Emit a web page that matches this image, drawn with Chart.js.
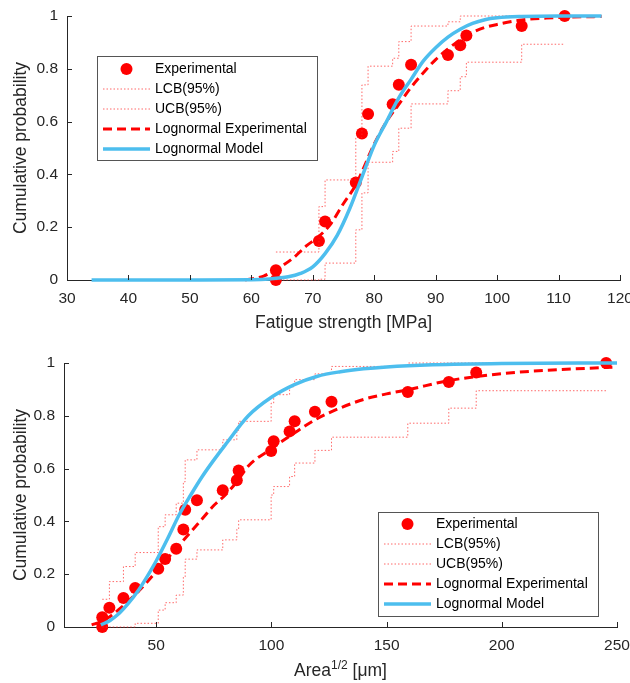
<!DOCTYPE html>
<html>
<head>
<meta charset="utf-8">
<script src="https://cdn.jsdelivr.net/npm/chart.js@4"></script>
<style>
  body { margin: 0; background: #fff; }
  #wrap { position: relative; width: 630px; height: 683px; }
  canvas { position: absolute; left: 0; }
</style>
</head>
<body>
<div id="wrap">
  <canvas id="topChart" width="630" height="340" style="top:0"></canvas>
  <canvas id="bottomChart" width="630" height="343" style="top:340px"></canvas>
</div>
<script>
// ---- top panel: fatigue strength ----
const strengthTicks = [30, 40, 50, 60, 70, 80, 90, 100, 110, 120];
const strengthMPa  = [64, 64, 71, 72, 77, 78, 79, 83, 84, 86, 92, 94, 95, 104, 111];
const strengthProb = [0, 0.037, 0.148, 0.222, 0.369, 0.555, 0.629, 0.666, 0.740, 0.815, 0.852, 0.889, 0.926, 0.962, 1.0];
const strengthLcbX = [64, 71, 72, 77, 78, 79, 83, 84, 86, 92, 94, 95, 104, 111];
const strengthLcbY = [0.0, 0.003, 0.064, 0.19, 0.33, 0.446, 0.487, 0.575, 0.667, 0.717, 0.77, 0.825, 0.893, 0.893];
const strengthUcbX = [64, 71, 72, 77, 78, 79, 83, 84, 86, 92, 94, 111];
const strengthUcbY = [0.106, 0.278, 0.379, 0.54, 0.739, 0.81, 0.84, 0.903, 0.962, 0.978, 1.0, 1.0];
const strengthFitX = [59, 62, 64, 66.8, 69, 71, 73, 75, 77, 80, 82, 84, 86, 88, 90, 92, 94, 96, 98, 100, 104, 108, 112, 117];
const strengthFitY = [0.0, 0.015, 0.039, 0.083, 0.13, 0.165, 0.215, 0.29, 0.36, 0.515, 0.6, 0.665, 0.73, 0.785, 0.835, 0.875, 0.91, 0.938, 0.957, 0.968, 0.985, 0.992, 0.996, 0.998];
const strengthModelX = [34, 50, 60, 63, 66, 68, 70, 72, 74, 76, 78, 80, 82, 84, 86, 88, 90, 92, 94, 96, 98, 100, 104, 110, 117];
const strengthModelY = [0, 0, 0.001, 0.004, 0.012, 0.025, 0.05, 0.1, 0.17, 0.27, 0.39, 0.51, 0.6, 0.69, 0.76, 0.83, 0.88, 0.92, 0.95, 0.972, 0.986, 0.993, 0.998, 1.0, 1.0];

// ---- bottom panel: defect size sqrt(area) ----
const areaTicks = [50, 100, 150, 200, 250];
const areaUm   = [26.6, 26.6, 29.7, 35.8, 40.9, 50.9, 53.9, 58.7, 61.8, 62.6, 67.7, 78.9, 85.0, 85.8, 99.9, 101.0, 107.9, 110.1, 118.9, 126.1, 159.2, 177.0, 188.9, 245.3];
const areaProb = [0, 0.037, 0.073, 0.110, 0.148, 0.221, 0.258, 0.296, 0.369, 0.444, 0.480, 0.518, 0.556, 0.593, 0.667, 0.704, 0.741, 0.779, 0.815, 0.853, 0.890, 0.928, 0.964, 1.0];
const areaLcbX = [26.6, 40.9, 50.9, 53.9, 58.7, 61.8, 62.6, 67.7, 78.9, 85.0, 85.8, 99.9, 101.0, 107.9, 110.1, 118.9, 126.1, 159.2, 177.0, 188.9, 245.3];
const areaLcbY = [0.0, 0.014, 0.064, 0.092, 0.121, 0.19, 0.257, 0.292, 0.33, 0.37, 0.406, 0.5, 0.532, 0.57, 0.621, 0.669, 0.719, 0.772, 0.829, 0.895, 0.895];
const areaUcbX = [26.6, 29.7, 35.8, 40.9, 50.9, 53.9, 58.7, 61.8, 62.6, 67.7, 78.9, 85.0, 85.8, 99.9, 101.0, 107.9, 110.1, 118.9, 126.1, 159.2, 245.3];
const areaUcbY = [0.105, 0.172, 0.229, 0.282, 0.38, 0.425, 0.469, 0.55, 0.633, 0.671, 0.709, 0.745, 0.779, 0.848, 0.88, 0.91, 0.937, 0.959, 0.987, 1.0, 1.0];
const areaFitX = [22, 26, 30, 35, 40, 45, 50, 55, 60, 65, 70, 75, 80, 85, 90, 100, 110, 120, 130, 140, 150, 160, 175, 190, 210, 230, 248];
const areaFitY = [0.008, 0.02, 0.04, 0.075, 0.115, 0.16, 0.21, 0.26, 0.31, 0.36, 0.41, 0.46, 0.5, 0.55, 0.61, 0.675, 0.735, 0.79, 0.83, 0.862, 0.883, 0.9, 0.93, 0.95, 0.967, 0.977, 0.984];
const areaModelX = [26, 30, 34, 38, 42, 46, 50, 55, 60, 65, 70, 75, 80, 90, 100, 110, 120, 130, 140, 150, 170, 200, 250];
const areaModelY = [0.008, 0.025, 0.052, 0.09, 0.135, 0.19, 0.25, 0.335, 0.425, 0.5, 0.57, 0.632, 0.69, 0.8, 0.87, 0.918, 0.95, 0.967, 0.978, 0.985, 0.993, 0.998, 1.0];

const probTicks = [0, 0.2, 0.4, 0.6, 0.8, 1];

const FONT = '"Liberation Sans", Arial, sans-serif';
const TEXT = '#262626';
const AXIS = '#262626';
const RED = '#ff0000';
const BLUE = 'rgb(77, 190, 238)';
const PINK = 'rgba(255, 40, 40, 0.7)';

const pts = (xs, ys) => xs.map((x, i) => ({x: x, y: ys[i]}));

// MATLAB style ticks pointing into the axes
const inwardTicks = {
  id: 'inwardTicks',
  afterDraw(chart) {
    const {ctx, chartArea: a, scales: {x, y}} = chart;
    ctx.save();
    ctx.strokeStyle = AXIS;
    ctx.lineWidth = 1;
    ctx.beginPath();
    x.ticks.forEach(t => {
      const px = Math.round(x.getPixelForValue(t.value)) + 0.5;
      ctx.moveTo(px, a.bottom);
      ctx.lineTo(px, a.bottom - 5);
    });
    y.ticks.forEach(t => {
      const py = Math.round(y.getPixelForValue(t.value)) + 0.5;
      ctx.moveTo(a.left, py);
      ctx.lineTo(a.left + 5, py);
    });
    ctx.stroke();
    ctx.restore();
  }
};

// boxed legend inside the axes, like MATLAB
const boxLegend = {
  id: 'boxLegend',
  afterDraw(chart, args, opts) {
    const {ctx} = chart;
    const L = opts.left, T = opts.top;
    ctx.save();
    ctx.fillStyle = '#fff';
    ctx.fillRect(L, T, opts.width, opts.height);
    ctx.strokeStyle = '#555';
    ctx.lineWidth = 1;
    ctx.strokeRect(L + 0.5, T + 0.5, opts.width, opts.height);
    ctx.font = '14px ' + FONT;
    ctx.textBaseline = 'middle';
    chart.data.datasets.forEach((ds, i) => {
      const cy = T + opts.firstRow + i * opts.rowGap;
      const x1 = L + 6, x2 = L + 53;
      if (ds.showLine) {
        ctx.beginPath();
        ctx.setLineDash(ds.borderDash || []);
        ctx.strokeStyle = ds.borderColor;
        ctx.lineWidth = ds.borderWidth;
        ctx.moveTo(x1, cy);
        ctx.lineTo(x2, cy);
        ctx.stroke();
        ctx.setLineDash([]);
      } else {
        ctx.beginPath();
        ctx.fillStyle = ds.backgroundColor;
        ctx.arc((x1 + x2) / 2, cy, ds.pointRadius, 0, 2 * Math.PI);
        ctx.fill();
      }
      ctx.fillStyle = '#000';
      ctx.fillText(ds.label, L + 58, cy);
    });
    ctx.restore();
  }
};

// x title with a superscript part (Area^1/2)
const supTitle = {
  id: 'supTitle',
  afterDraw(chart, args, opts) {
    if (!opts.parts) return;
    const {ctx, chartArea: a} = chart;
    ctx.save();
    ctx.fillStyle = TEXT;
    ctx.textBaseline = 'alphabetic';
    let total = 0;
    opts.parts.forEach(p => { ctx.font = p.size + 'px ' + FONT; total += ctx.measureText(p.text).width; });
    let x = (a.left + a.right) / 2 - total / 2;
    opts.parts.forEach(p => {
      ctx.font = p.size + 'px ' + FONT;
      ctx.fillText(p.text, x, opts.baseline - (p.rise || 0));
      x += ctx.measureText(p.text).width;
    });
    ctx.restore();
  }
};

function makeDatasets(px, py, lx, ly, ux, uy, fx, fy, mx, my) {
  return [
    { label: 'Experimental', data: pts(px, py), showLine: false, clip: false,
      pointRadius: 6, pointHoverRadius: 6, backgroundColor: RED, borderColor: RED, borderWidth: 0, order: 5 },
    { label: 'LCB(95%)', data: pts(lx, ly), showLine: true, stepped: true, pointRadius: 0, clip: false,
      borderColor: PINK, borderWidth: 1, borderDash: [1.5, 2], order: 4 },
    { label: 'UCB(95%)', data: pts(ux, uy), showLine: true, stepped: true, pointRadius: 0, clip: false,
      borderColor: PINK, borderWidth: 1, borderDash: [1.5, 2], order: 3 },
    { label: 'Lognormal Experimental', data: pts(fx, fy), showLine: true, pointRadius: 0, clip: false,
      cubicInterpolationMode: 'monotone', borderColor: RED, borderWidth: 3, borderDash: [9, 5], order: 2 },
    { label: 'Lognormal Model', data: pts(mx, my), showLine: true, pointRadius: 0, clip: false,
      cubicInterpolationMode: 'monotone', borderColor: BLUE, borderWidth: 3.5, order: 1 }
  ];
}

function makeChart(canvasId, cfg) {
  return new Chart(document.getElementById(canvasId), {
    type: 'scatter',
    data: { datasets: cfg.datasets },
    plugins: [inwardTicks, boxLegend, supTitle],
    options: {
      responsive: false,
      animation: false,
      layout: { padding: cfg.padding },
      plugins: {
        legend: { display: false },
        tooltip: { enabled: false },
        boxLegend: cfg.legend,
        supTitle: cfg.supTitle || {}
      },
      scales: {
        x: {
          type: 'linear',
          min: cfg.xMin,
          max: cfg.xMax,
          afterBuildTicks: s => { s.ticks = cfg.xTicks.map(v => ({value: v})); },
          ticks: { color: TEXT, font: {family: FONT, size: 15.5}, padding: 9, maxRotation: 0, autoSkip: false,
                   callback: v => String(v) },
          grid: { display: false, drawTicks: false },
          border: { display: true, color: AXIS, width: 1 },
          title: {
            display: !!cfg.xTitle,
            text: cfg.xTitle,
            color: TEXT,
            font: {family: FONT, size: 17.5},
            padding: {top: 0, bottom: 6}
          },
          afterFit: s => { s.height = cfg.xHeight; s.paddingLeft = 0; s.paddingRight = 0; }
        },
        y: {
          type: 'linear',
          min: 0,
          max: 1,
          afterBuildTicks: s => { s.ticks = probTicks.map(v => ({value: v})); },
          ticks: { color: TEXT, font: {family: FONT, size: 15.5}, padding: 9, callback: v => String(v) },
          grid: { display: false, drawTicks: false },
          border: { display: true, color: AXIS, width: 1 },
          title: {
            display: true,
            text: 'Cumulative probability',
            color: TEXT,
            font: {family: FONT, size: 17.5},
            padding: {top: 11, bottom: 0}
          },
          afterFit: s => { s.width = cfg.yWidth; s.paddingTop = 0; s.paddingBottom = 0; }
        }
      }
    }
  });
}

makeChart('topChart', {
  datasets: makeDatasets(strengthMPa, strengthProb, strengthLcbX, strengthLcbY, strengthUcbX, strengthUcbY,
                         strengthFitX, strengthFitY, strengthModelX, strengthModelY),
  padding: {top: 16, right: 10, left: 0, bottom: 0},
  xMin: 30, xMax: 120, xTicks: strengthTicks,
  xTitle: 'Fatigue strength [MPa]',
  xHeight: 60, yWidth: 67,
  legend: {left: 97, top: 56, width: 220, height: 104, firstRow: 13, rowGap: 20}
});

makeChart('bottomChart', {
  datasets: makeDatasets(areaUm, areaProb, areaLcbX, areaLcbY, areaUcbX, areaUcbY,
                         areaFitX, areaFitY, areaModelX, areaModelY),
  padding: {top: 23, right: 13, left: 0, bottom: 0},
  xMin: 10, xMax: 250, xTicks: areaTicks,
  xTitle: '',
  xHeight: 56, yWidth: 64,
  legend: {left: 378, top: 172, width: 220, height: 104, firstRow: 12, rowGap: 20},
  supTitle: { baseline: 336, parts: [
    {text: 'Area', size: 17.5},
    {text: '1/2', size: 12, rise: 7},
    {text: ' [μm]', size: 17.5}
  ]}
});
</script>
</body>
</html>
